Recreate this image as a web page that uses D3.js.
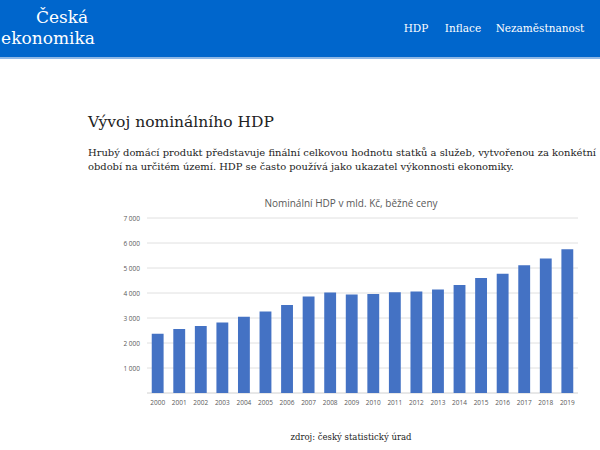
<!DOCTYPE html>
<html><head><meta charset="utf-8">
<script src="https://cdn.jsdelivr.net/npm/d3@7"></script>
<style>
body{margin:0;width:600px;height:450px;overflow:hidden;background:#fff;font-family:"DejaVu Serif",serif;}
</style></head><body>
<svg id="s" width="600" height="450"></svg>
<script>
const years=["2000","2001","2002","2003","2004","2005","2006","2007","2008","2009","2010","2011","2012","2013","2014","2015","2016","2017","2018","2019"];
const gdp=[2370,2560,2680,2820,3050,3260,3520,3860,4020,3940,3960,4030,4060,4140,4320,4600,4770,5110,5380,5750];
const yTicks=[0,1000,2000,3000,4000,5000,6000,7000];
const navItems=["HDP","Inflace","Nezaměstnanost"];

const svg=d3.select("#s");
svg.append("rect").attr("x",0).attr("y",0).attr("width",600).attr("height",57).attr("fill","#0066cc");
svg.append("rect").attr("x",0).attr("y",57).attr("width",600).attr("height",2).attr("fill","#8fb8e6");
svg.append("text").attr("x",62).attr("y",23).attr("text-anchor","middle").attr("fill","#fff").attr("font-size",17).text("Česká");
svg.append("text").attr("x",48).attr("y",44).attr("text-anchor","middle").attr("fill","#fff").attr("font-size",17).text("ekonomika");
const navX=[416,463,540];
navItems.forEach((t,i)=>svg.append("text").attr("x",navX[i]).attr("y",32).attr("text-anchor","middle").attr("fill","#fff").attr("font-size",10.5).text(t));

svg.append("text").attr("x",88).attr("y",127).attr("font-size",15.5).attr("fill","#222").text("Vývoj nominálního HDP");
svg.append("text").attr("x",88).attr("y",156).attr("font-size",10).attr("textLength",508).attr("lengthAdjust","spacingAndGlyphs").attr("fill","#222").text("Hrubý domácí produkt představuje finální celkovou hodnotu statků a služeb, vytvořenou za konkétní");
svg.append("text").attr("x",88).attr("y",170).attr("font-size",10).attr("textLength",426).attr("lengthAdjust","spacingAndGlyphs").attr("fill","#222").text("období na určitém území. HDP se často používá jako ukazatel výkonnosti ekonomiky.");

const x=d3.scaleBand().domain(years).range([147,578]).paddingInner(0.45).paddingOuter(0.22);
const y=d3.scaleLinear().domain([0,7000]).range([393,218]);
const g=svg.append("g").attr("font-family","'Open Sans',sans-serif");
g.selectAll(".gl").data(yTicks.slice(1)).join("line").attr("x1",147).attr("x2",578).attr("y1",d=>y(d)).attr("y2",d=>y(d)).attr("stroke","#e0e0e0");
g.append("line").attr("x1",147).attr("x2",578).attr("y1",y(0)).attr("y2",y(0)).attr("stroke","#d0d0d0");
g.selectAll(".yl").data(yTicks.slice(1)).join("text").attr("x",140).attr("y",d=>y(d)+2.5).attr("text-anchor","end").attr("font-size",6.5).attr("fill","#595959").text(d=>d3.format(",")(d).replace(","," "));
g.selectAll(".b").data(gdp).join("rect").attr("x",(d,i)=>x(years[i])).attr("width",x.bandwidth()).attr("y",d=>y(d)).attr("height",d=>y(0)-y(d)).attr("fill","#4472c4");
g.selectAll(".xl").data(years).join("text").attr("x",d=>x(d)+x.bandwidth()/2).attr("y",405).attr("text-anchor","middle").attr("font-size",6.5).attr("fill","#595959").text(d=>d);
g.append("text").attr("x",351).attr("y",207).attr("text-anchor","middle").attr("font-size",10).attr("fill","#595959").text("Nominální HDP v mld. Kč, běžné ceny");
svg.append("text").attr("x",351).attr("y",440).attr("text-anchor","middle").attr("font-size",8.5).attr("fill","#222").text("zdroj: český statistický úrad");
</script></body></html>
